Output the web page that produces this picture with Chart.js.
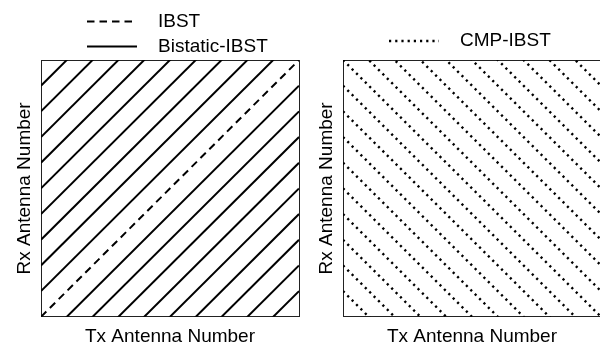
<!DOCTYPE html>
<html>
<head>
<meta charset="utf-8">
<script src="https://cdn.jsdelivr.net/npm/chart.js@4"></script>
<style>
    html, body { margin: 0; padding: 0; overflow: hidden; background: #fff; }
    canvas { position: absolute; top: 0; }
    #leftCanvas { left: 0; }
    #rightCanvas { left: 302px; }
</style>
</head>
<body>
<canvas id="leftCanvas" width="300" height="344"></canvas>
<canvas id="rightCanvas" width="300" height="344"></canvas>
<script>
// antenna index range on both axes
const antennaRange = [0, 10];
// diagonals (Rx = Tx + offset on the left, Rx = offset - Tx on the right)
const ibstOffsets = [0];
const bistaticOffsets = [-9, -8, -7, -6, -5, -4, -3, -2, -1, 1, 2, 3, 4, 5, 6, 7, 8, 9];
const cmpOffsets = [1, 2, 3, 4, 5, 6, 7, 8, 9, 10, 11, 12, 13, 14, 15, 16, 17, 18, 19];
const seriesNames = ["IBST", "Bistatic-IBST", "CMP-IBST"];
const xTitle = "Tx Antenna Number";
const yTitle = "Rx Antenna Number";

const fontFamily = "'Liberation Sans', Arial, Helvetica, sans-serif";

// draws the legend rows above the plot, from the labelled datasets
const lineLegend = {
    id: "lineLegend",
    afterDraw(chart, args, opts) {
        const ctx = chart.ctx;
        const items = chart.data.datasets.filter((ds) => ds.label);
        ctx.save();
        ctx.font = "19px " + fontFamily;
        items.forEach((ds, i) => {
            const y = opts.rows[i];
            ctx.beginPath();
            ctx.setLineDash(ds.borderDash || []);
            ctx.lineWidth = ds.borderWidth;
            ctx.strokeStyle = ds.borderColor;
            ctx.moveTo(opts.lineX, y);
            ctx.lineTo(opts.lineX + opts.lineLength, y);
            ctx.stroke();
            ctx.setLineDash([]);
            ctx.fillStyle = "#000";
            ctx.textBaseline = "middle";
            ctx.textAlign = "left";
            ctx.fillText(ds.label, opts.textX, y);
        });
        ctx.restore();
    },
};

function diagonals(offsets, slope, label, dash, width) {
    return offsets.map((k, i) => ({
        label: i === 0 ? label : undefined,
        data: [
            { x: antennaRange[0], y: k + slope * antennaRange[0] },
            { x: antennaRange[1], y: k + slope * antennaRange[1] },
        ],
        showLine: true,
        borderColor: "#000",
        borderWidth: width,
        borderDash: dash,
        pointRadius: 0,
        clip: 0,
    }));
}

function edgeScale(position) {
    return {
        type: "linear",
        position: position,
        ticks: { display: false },
        grid: { display: false, drawTicks: false },
        border: { display: true, color: "#222", width: 1 },
    };
}

function makeOptions(legendRows) {
    const x = edgeScale("bottom");
    x.min = antennaRange[0];
    x.max = antennaRange[1];
    x.title = {
        display: true,
        text: xTitle,
        color: "#000",
        font: { family: fontFamily, size: 19, lineHeight: 0.8 },
        padding: { top: 12, bottom: 0 },
    };
    const y = edgeScale("left");
    y.min = antennaRange[0];
    y.max = antennaRange[1];
    y.title = {
        display: true,
        text: yTitle,
        color: "#000",
        font: { family: fontFamily, size: 19, lineHeight: 0.8 },
        padding: { top: 17.4, bottom: 8.4 },
    };
    return {
        responsive: false,
        animation: false,
        events: [],
        layout: { padding: { top: 60, right: 1, bottom: 0, left: 0 } },
        plugins: {
            legend: { display: false },
            tooltip: { enabled: false },
            lineLegend: { rows: legendRows, lineX: 87, lineLength: 50, textX: 158 },
        },
        scales: {
            x: x,
            y: y,
            xTop: edgeScale("top"),
            yRight: edgeScale("right"),
        },
    };
}

const leftChart = new Chart(document.getElementById("leftCanvas"), {
    type: "scatter",
    data: {
        datasets: [
            ...diagonals(ibstOffsets, 1, seriesNames[0], [7.5, 5], 2),
            ...diagonals(bistaticOffsets, 1, seriesNames[1], [], 2),
        ],
    },
    options: makeOptions([21.5, 46.5]),
    plugins: [lineLegend],
});

const rightChart = new Chart(document.getElementById("rightCanvas"), {
    type: "scatter",
    data: {
        datasets: diagonals(cmpOffsets, -1, seriesNames[2], [2.2, 4], 2.4),
    },
    options: makeOptions([41]),
    plugins: [lineLegend],
});
</script>
</body>
</html>
